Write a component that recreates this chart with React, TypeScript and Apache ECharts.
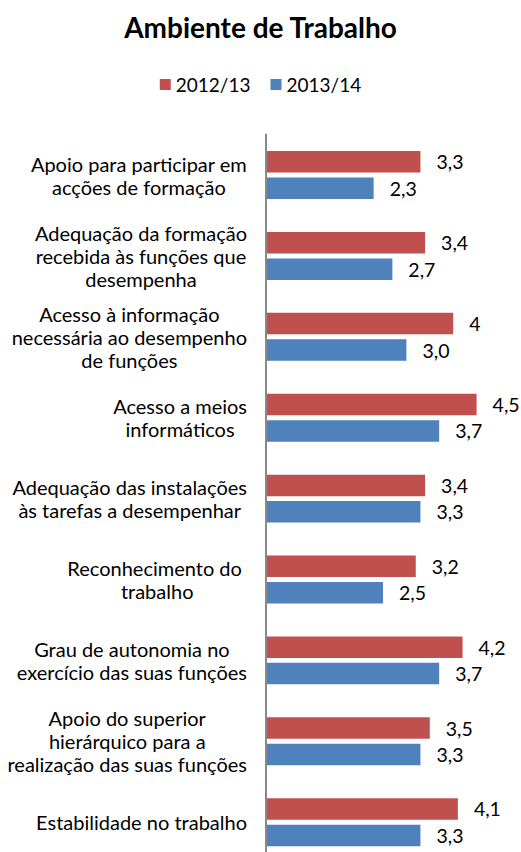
import React, { useEffect, useRef } from "react";
import * as echarts from "echarts";

const categories: string[] = [
  "Apoio para participar em\nacções de formação",
  "Adequação da formação\nrecebida às funções que\ndesempenha",
  "Acesso à informação\nnecessária ao desempenho\nde funções",
  "Acesso a meios\ninformáticos",
  "Adequação das instalações\nàs tarefas a desempenhar",
  "Reconhecimento do \ntrabalho",
  "Grau de autonomia no\nexercício das suas funções",
  "Apoio do superior\nhierárquico para a\nrealização das suas funções",
  "Estabilidade no trabalho",
];

const seriesNames: string[] = ["2012/13", "2013/14"];

const values2012: number[] = [3.3, 3.4, 4, 4.5, 3.4, 3.2, 4.2, 3.5, 4.1];
const values2013: number[] = [2.3, 2.7, 3.0, 3.7, 3.3, 2.5, 3.7, 3.3, 3.3];

const labels2012: string[] = ["3,3", "3,4", "4", "4,5", "3,4", "3,2", "4,2", "3,5", "4,1"];
const labels2013: string[] = ["2,3", "2,7", "3,0", "3,7", "3,3", "2,5", "3,7", "3,3", "3,3"];

const FONT = "Lato, 'Open Sans', sans-serif";

export default function App() {
  const ref = useRef<HTMLDivElement>(null);

  useEffect(() => {
    if (!ref.current) return;
    const chart = echarts.init(ref.current, undefined, { renderer: "svg" });
    const labelStyle = (arr: string[]) => ({
      show: true,
      position: "right" as const,
      distance: 16,
      color: "#000",
      fontSize: 19.5,
      fontFamily: FONT,
      formatter: (p: any) => arr[p.dataIndex],
    });
    chart.setOption({
      animation: false,
      backgroundColor: "#ffffff",
      title: {
        text: "Ambiente de Trabalho",
        left: "center",
        top: 8,
        textStyle: { fontFamily: FONT, fontSize: 28, fontWeight: "bold", color: "#000" },
      },
      legend: {
        data: seriesNames,
        top: 70,
        left: "center",
        icon: "rect",
        itemWidth: 11,
        itemHeight: 11,
        itemGap: 20,
        textStyle: { fontFamily: FONT, fontSize: 19, color: "#000" },
      },
      grid: { left: 266, top: 134.6, width: 234, height: 728, containLabel: false },
      xAxis: {
        type: "value",
        min: 0,
        max: 5,
        show: false,
      },
      yAxis: {
        type: "category",
        data: categories,
        inverse: true,
        z: 10,
        axisLine: { show: true, lineStyle: { color: "#898989", width: 2 } },
        axisTick: { show: false },
        splitLine: { show: false },
        axisLabel: {
          margin: 19,
          color: "#000",
          formatter: (v: string) =>
            v
              .split("\n")
              .map((l) => `{c|${l}}`)
              .join("\n"),
          rich: {
            c: {
              align: "center",
              fontFamily: FONT,
              fontSize: 20,
              lineHeight: 23,
              color: "#000",
            },
          },
        },
      },
      series: [
        {
          name: seriesNames[0],
          type: "bar",
          data: values2012,
          barWidth: 21.5,
          barGap: "23%",
          itemStyle: { color: "#C0504D" },
          label: labelStyle(labels2012),
        },
        {
          name: seriesNames[1],
          type: "bar",
          data: values2013,
          barWidth: 21.5,
          barGap: "23%",
          itemStyle: { color: "#4F81BD" },
          label: labelStyle(labels2013),
        },
      ],
    });
    return () => chart.dispose();
  }, []);

  return (
    <div
      style={{
        position: "fixed",
        left: 0,
        top: 0,
        width: 521,
        height: 852,
        overflow: "hidden",
        background: "#fff",
      }}
    >
      <div ref={ref} style={{ width: 521, height: 870 }} />
    </div>
  );
}
